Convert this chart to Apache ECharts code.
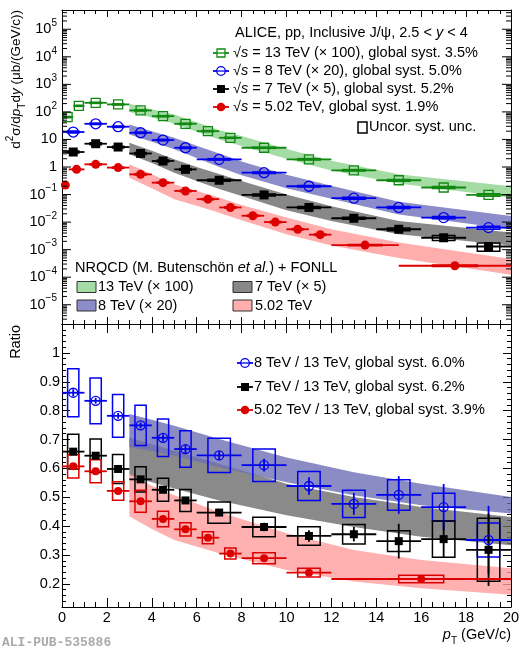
<!DOCTYPE html>
<html>
<head>
<meta charset="utf-8">
<script src="https://cdn.jsdelivr.net/npm/echarts@6/dist/echarts.min.js"></script>
<style>
html, body { margin: 0; padding: 0; background: #fff; }
#chart { width: 524px; height: 650px; }
</style>
</head>
<body>
<div id="chart"></div>
<script>
// ---- upper panel: d2sigma/dpT dy, already multiplied by the scale factors ----
// 13 TeV (x 100)
var pt13 = [0.25, 0.75, 1.5, 2.5, 3.5, 4.5, 5.5, 6.5, 7.5, 9, 11, 13, 15, 17, 19];
var binLo13 = [0, 0.5, 1, 2, 3, 4, 5, 6, 7, 8, 10, 12, 14, 16, 18];
var binHi13 = [0.5, 1, 2, 3, 4, 5, 6, 7, 8, 10, 12, 14, 16, 18, 20];
var xs13 = [65, 166, 214, 187, 113, 70, 37, 20, 11.5, 5.0, 1.9, 0.76, 0.33, 0.18, 0.097];
var sys13 = [0.06, 0.05, 0.05, 0.05, 0.05, 0.05, 0.05, 0.05, 0.05, 0.05, 0.06, 0.06, 0.07, 0.08, 0.10];

// 8 TeV (x 20) and 7 TeV (x 5) share the binning
var pt8 = [0.5, 1.5, 2.5, 3.5, 4.5, 5.5, 7, 9, 11, 13, 15, 17, 19];
var binLo8 = [0, 1, 2, 3, 4, 5, 6, 8, 10, 12, 14, 16, 18];
var binHi8 = [1, 2, 3, 4, 5, 6, 8, 10, 12, 14, 16, 18, 20];
var xs8 = [18.6, 37, 29, 17.5, 9.5, 5.0, 1.9, 0.62, 0.20, 0.074, 0.034, 0.0146, 0.0063];
var sys8 = [0.08, 0.06, 0.06, 0.06, 0.06, 0.06, 0.06, 0.07, 0.07, 0.08, 0.09, 0.10, 0.12];
var xs7 = [3.5, 7.0, 5.3, 3.1, 1.65, 0.82, 0.33, 0.097, 0.034, 0.0138, 0.0055, 0.0027, 0.0013];
var sys7 = [0.08, 0.08, 0.08, 0.08, 0.08, 0.08, 0.08, 0.09, 0.09, 0.09, 0.11, 0.20, 0.33];

// 5.02 TeV
var pt5 = [0.15, 0.65, 1.5, 2.5, 3.5, 4.5, 5.5, 6.5, 7.5, 8.5, 9.5, 10.5, 11.5, 13.5, 17.5];
var binLo5 = [0, 0.3, 1, 2, 3, 4, 5, 6, 7, 8, 9, 10, 11, 12, 15];
var binHi5 = [0.3, 1, 2, 3, 4, 5, 6, 7, 8, 9, 10, 11, 12, 15, 20];
var xs5 = [0.22, 0.82, 1.25, 0.95, 0.54, 0.27, 0.135, 0.068, 0.034, 0.017, 0.010, 0.0055, 0.0035, 0.00146, 0.00026];
var sys5 = [0.05, 0.05, 0.05, 0.05, 0.05, 0.05, 0.05, 0.05, 0.05, 0.05, 0.05, 0.05, 0.06, 0.06, 0.06];

// NRQCD + FONLL bands (upper panel)
var bandPt = [3, 4, 5, 6, 7, 8, 10, 12, 15, 20];
var band13Lo = [100, 62, 37, 19, 10, 5.8, 2.0, 0.75, 0.25, 0.077];
var band13Hi = [196, 125, 80, 42, 22, 13.3, 4.5, 1.7, 0.55, 0.20];
var band8Lo = [15, 8.3, 4.4, 2.1, 1.0, 0.5, 0.17, 0.07, 0.019, 0.0055];
var band8Hi = [35, 20, 11.5, 5.9, 3.1, 1.6, 0.52, 0.21, 0.055, 0.0167];
var band7Lo = [2.9, 1.4, 0.62, 0.31, 0.16, 0.089, 0.027, 0.011, 0.0036, 0.0014];
var band7Hi = [7.6, 3.9, 1.9, 1.0, 0.56, 0.31, 0.10, 0.038, 0.011, 0.0042];
var band5Lo = [0.41, 0.17, 0.068, 0.039, 0.022, 0.0117, 0.0036, 0.0014, 0.0005, 0.000123];
var band5Hi = [1.25, 0.54, 0.235, 0.135, 0.078, 0.042, 0.0146, 0.0055, 0.0018, 0.00046];

// ---- lower panel: ratios to 13 TeV ----
var r8 = [0.862, 0.834, 0.782, 0.749, 0.706, 0.667, 0.645, 0.611, 0.539, 0.477, 0.508, 0.466, 0.352];
var r8Stat = [0.012, 0.010, 0.010, 0.010, 0.012, 0.014, 0.015, 0.022, 0.030, 0.038, 0.065, 0.080, 0.118];
var r8Sys = [0.083, 0.079, 0.074, 0.070, 0.065, 0.063, 0.059, 0.056, 0.050, 0.047, 0.053, 0.048, 0.059];
var r7 = [0.658, 0.644, 0.598, 0.562, 0.526, 0.489, 0.447, 0.397, 0.366, 0.372, 0.348, 0.355, 0.318];
var r7Stat = [0.008, 0.008, 0.008, 0.008, 0.008, 0.010, 0.012, 0.015, 0.020, 0.025, 0.060, 0.065, 0.125];
var r7Sys = [0.060, 0.058, 0.050, 0.044, 0.040, 0.038, 0.037, 0.034, 0.032, 0.034, 0.036, 0.063, 0.109];
var ptR5 = [0.5, 1.5, 2.5, 3.5, 4.5, 5.5, 6.5, 7.5, 9, 11, 16];
var binLoR5 = [0, 1, 2, 3, 4, 5, 6, 7, 8, 10, 12];
var binHiR5 = [1, 2, 3, 4, 5, 6, 7, 8, 10, 12, 20];
var r5 = [0.607, 0.590, 0.522, 0.486, 0.425, 0.389, 0.360, 0.305, 0.289, 0.239, 0.217];
var r5Stat = [0.008, 0.008, 0.008, 0.008, 0.008, 0.008, 0.008, 0.008, 0.008, 0.008, 0.008];
var r5Sys = [0.040, 0.040, 0.032, 0.038, 0.027, 0.023, 0.021, 0.019, 0.019, 0.015, 0.013];

// model ratio bands
var bandRPt = [3, 4, 5, 7, 10, 13, 16, 20];
var band8RLo = [0.673, 0.660, 0.644, 0.604, 0.552, 0.507, 0.472, 0.444];
var band8RHi = [0.788, 0.768, 0.748, 0.702, 0.638, 0.587, 0.547, 0.501];
var band7RLo = [0.575, 0.552, 0.530, 0.489, 0.438, 0.397, 0.363, 0.334];
var band7RHi = [0.707, 0.684, 0.661, 0.616, 0.547, 0.501, 0.466, 0.432];
var band5RLo = [0.434, 0.390, 0.352, 0.306, 0.248, 0.208, 0.185, 0.162];
var band5RHi = [0.581, 0.540, 0.507, 0.449, 0.375, 0.317, 0.283, 0.254];

// log axis: labelled decades and minor tick multipliers
var majorExp = [-5, -4, -3, -2, -1, 0, 1, 2, 3, 4, 5];
var minorMult = [2, 3, 4, 5, 6, 7, 8, 9];

var F = '"Liberation Sans", Arial, Helvetica, sans-serif';
var FS = 14.5;
var GREEN = '#118811', BLUE = '#0000ee', BLACK = '#000000', RED = '#dd0000';

var chart = echarts.init(document.getElementById('chart'));

// rich text for graphic elements (zrender uses fill)
function richSet(size) {
    return {
        n: { fontFamily: F, fontSize: size, lineHeight: 22, fill: '#000' },
        i: { fontFamily: F, fontSize: size, lineHeight: 22, fontStyle: 'italic', fill: '#000' },
        sup: { fontFamily: F, fontSize: 10, lineHeight: 10, verticalAlign: 'top', fill: '#000' },
        sub: { fontFamily: F, fontSize: 10, lineHeight: 10, verticalAlign: 'bottom', fill: '#000' }
    };
}
var RICH_G = richSet(FS);

function boxHalf(lo, hi) {
    return Math.min((hi - lo) / 4, 1);
}

// horizontal bin bar + vertical stat bar
function errSeries(pts, lo, hi, vals, stat, color, lw, ax) {
    var data = pts.map(function (p, i) {
        var s = stat ? stat[i] : 0;
        return [p, vals[i], lo[i], hi[i], vals[i] - s, vals[i] + s];
    });
    return {
        type: 'custom', xAxisIndex: ax, yAxisIndex: ax, z: 3, silent: true,
        data: data,
        renderItem: function (params, api) {
            var c = api.coord([api.value(0), api.value(1)]);
            var l = api.coord([api.value(2), api.value(1)]);
            var r = api.coord([api.value(3), api.value(1)]);
            var kids = [{
                type: 'line',
                shape: { x1: l[0], y1: c[1], x2: r[0], y2: c[1] },
                style: { stroke: color, lineWidth: lw }
            }];
            if (api.value(5) > api.value(4)) {
                var b = api.coord([api.value(0), api.value(4)]);
                var t = api.coord([api.value(0), api.value(5)]);
                kids.push({
                    type: 'line',
                    shape: { x1: c[0], y1: t[1], x2: c[0], y2: b[1] },
                    style: { stroke: color, lineWidth: lw }
                });
            }
            return { type: 'group', children: kids };
        }
    };
}

// open boxes for uncorrelated systematics; rel = true -> relative errors
function boxSeries(pts, lo, hi, vals, sys, rel, color, ax) {
    var data = pts.map(function (p, i) {
        var d = rel ? vals[i] * sys[i] : sys[i];
        return [p, vals[i] - d, vals[i] + d, boxHalf(lo[i], hi[i])];
    });
    return {
        type: 'custom', xAxisIndex: ax, yAxisIndex: ax, z: 2, silent: true,
        data: data,
        renderItem: function (params, api) {
            var p0 = api.coord([api.value(0) - api.value(3), api.value(2)]);
            var p1 = api.coord([api.value(0) + api.value(3), api.value(1)]);
            return {
                type: 'rect',
                shape: { x: p0[0], y: p0[1], width: p1[0] - p0[0], height: p1[1] - p0[1] },
                style: { fill: 'none', stroke: color, lineWidth: 1.5 }
            };
        }
    };
}

function markerSeries(pts, vals, symbol, open, color, size, ax) {
    return {
        type: 'scatter', xAxisIndex: ax, yAxisIndex: ax, z: 4, silent: true,
        symbol: symbol, symbolSize: size,
        data: pts.map(function (p, i) { return [p, vals[i]]; }),
        itemStyle: open
            ? { color: 'rgba(0,0,0,0)', borderColor: color, borderWidth: 1.3, opacity: 1 }
            : { color: color, opacity: 1 }
    };
}

function bandSeries(pts, lo, hi, fill, ax) {
    return {
        type: 'custom', xAxisIndex: ax, yAxisIndex: ax, z: 1, silent: true,
        data: pts.map(function (p, i) { return [p, lo[i], hi[i]]; }),
        renderItem: function (params, api) {
            if (params.dataIndex !== 0) return null;
            var poly = [];
            for (var i = 0; i < pts.length; i++) poly.push(api.coord([pts[i], hi[i]]));
            for (var j = pts.length - 1; j >= 0; j--) poly.push(api.coord([pts[j], lo[j]]));
            return { type: 'polygon', shape: { points: poly }, style: { fill: fill, stroke: null } };
        }
    };
}

// ticks of the log axis on both sides of the upper frame, drawn on its scale
function tickPair(a, b, len) {
    return [
        { type: 'line', shape: { x1: a[0], y1: a[1], x2: a[0] + len, y2: a[1] }, style: { stroke: '#000', lineWidth: 1 } },
        { type: 'line', shape: { x1: b[0] - len, y1: b[1], x2: b[0], y2: b[1] }, style: { stroke: '#000', lineWidth: 1 } }
    ];
}

var minorVals = [];
for (var n = -6; n <= 5; n++) {
    minorMult.forEach(function (m) {
        var v = m * Math.pow(10, n);
        if (v > 2e-6 && v < 5e5) minorVals.push([0, v]);
    });
}
var logMinorTicks = {
    type: 'custom', xAxisIndex: 0, yAxisIndex: 0, z: 5, silent: true,
    data: minorVals,
    renderItem: function (params, api) {
        var a = api.coord([0, api.value(1)]);
        var b = api.coord([20, api.value(1)]);
        return { type: 'group', children: tickPair(a, b, 5) };
    }
};

var logMajorTicks = {
    type: 'custom', xAxisIndex: 0, yAxisIndex: 0, z: 5, silent: true,
    data: majorExp.map(function (e) { return [0, Math.pow(10, e), e]; }),
    renderItem: function (params, api) {
        var e = api.value(2);
        var a = api.coord([0, api.value(1)]);
        var b = api.coord([20, api.value(1)]);
        var txt = e === 0 ? '{n|1}' : e === 1 ? '{n|10}'
            : '{n|10}{sup|' + (e < 0 ? '\u2212' : '') + Math.abs(e) + '}';
        var kids = tickPair(a, b, 9);
        kids.push({
            type: 'text', x: a[0] - 5, y: a[1],
            style: { text: txt, rich: RICH_G, font: FS + 'px ' + F, fill: '#000', align: 'right', verticalAlign: 'middle' }
        });
        return { type: 'group', children: kids };
    }
};

function xAxisDef(grid, pos, labels, major, minor) {
    return {
        type: 'value', gridIndex: grid, position: pos, min: 0, max: 20, interval: 2,
        axisLine: { show: true, onZero: false, lineStyle: { color: '#000', width: 1 } },
        axisTick: { show: true, inside: true, length: major, lineStyle: { color: '#000' } },
        minorTick: { show: true, splitNumber: 4, length: minor, lineStyle: { color: '#000' } },
        splitLine: { show: false },
        axisLabel: { show: labels, margin: 3, color: '#000', fontFamily: F, fontSize: FS }
    };
}

function logAxisDef(pos) {
    return {
        type: 'log', gridIndex: 0, position: pos, min: 2e-6, max: 5e5,
        axisLine: { show: true, onZero: false, lineStyle: { color: '#000', width: 1 } },
        axisTick: { show: false },
        splitLine: { show: false },
        axisLabel: { show: false }
    };
}

function ratioAxisDef(pos, labels) {
    return {
        type: 'value', gridIndex: 1, position: pos, min: 0.12, max: 1.1, splitNumber: 10,
        axisLine: { show: true, onZero: false, lineStyle: { color: '#000', width: 1 } },
        axisTick: { show: true, inside: true, length: 8, lineStyle: { color: '#000' } },
        minorTick: { show: true, splitNumber: 5, length: 4, lineStyle: { color: '#000' } },
        splitLine: { show: false },
        axisLabel: {
            show: labels, margin: 2, showMinLabel: false, showMaxLabel: false,
            color: '#000', fontFamily: F, fontSize: FS
        }
    };
}

// legend pieces (pixel layout)
function legendMarker(x, y, color, shape, open) {
    var els = [{
        type: 'line', z: 10,
        shape: { x1: x - 8, y1: y, x2: x + 8, y2: y },
        style: { stroke: color, lineWidth: 1.8 }
    }];
    var st = open ? { fill: '#fff', stroke: color, lineWidth: 1.3 } : { fill: color };
    if (shape === 'rect') {
        els.push({ type: 'rect', z: 11, shape: { x: x - 4, y: y - 4, width: 8, height: 8 }, style: st });
    } else {
        els.push({ type: 'circle', z: 11, shape: { cx: x, cy: y, r: 4.3 }, style: st });
    }
    if (open) {
        els.push({ type: 'line', z: 12, shape: { x1: x - 4, y1: y, x2: x + 4, y2: y }, style: { stroke: color, lineWidth: 1.3 } });
    }
    return els;
}

function label(x, y, text, align, rotation, size) {
    var fs = size || FS;
    return {
        type: 'text', x: x, y: y, z: 12, rotation: rotation || 0,
        style: { text: text, rich: richSet(fs), font: fs + 'px ' + F, fill: '#000', verticalAlign: 'middle', align: align || 'left' }
    };
}

function bandKey(x, y, fill) {
    return { type: 'rect', z: 10, shape: { x: x, y: y, width: 19, height: 11 }, style: { fill: fill, stroke: '#333', lineWidth: 1 } };
}

var graphics = [];
graphics.push(label(235, 33, '{n|ALICE, pp, Inclusive J/\u03c8, 2.5 < }{i|y}{n| < 4}'));
var topRows = [
    [53, GREEN, 'rect', true, '{n|\u221a}{i|s}{n| = 13 TeV (\u00d7 100), global syst. 3.5%}'],
    [71, BLUE, 'circle', true, '{n|\u221a}{i|s}{n| = 8 TeV (\u00d7 20), global syst. 5.0%}'],
    [89, BLACK, 'rect', false, '{n|\u221a}{i|s}{n| = 7 TeV (\u00d7 5), global syst. 5.2%}'],
    [107, RED, 'circle', false, '{n|\u221a}{i|s}{n| = 5.02 TeV, global syst. 1.9%}']
];
topRows.forEach(function (r) {
    graphics = graphics.concat(legendMarker(221, r[0], r[1], r[2], r[3]));
    graphics.push(label(233, r[0], r[4]));
});
graphics.push({ type: 'rect', z: 10, shape: { x: 358, y: 122, width: 9, height: 11 }, style: { fill: 'none', stroke: '#000', lineWidth: 1.5 } });
graphics.push(label(369, 127, '{n|Uncor. syst. unc.}'));

graphics.push(label(75, 268, '{n|NRQCD (M. Butensch\u00f6n }{i|et al.}{n|) + FONLL}'));
graphics.push(bandKey(77, 281.5, '#a5dca5'));
graphics.push(label(98, 287, '{n|13 TeV (\u00d7 100)}'));
graphics.push(bandKey(77, 300, '#8c8cca'));
graphics.push(label(98, 305.5, '{n|8 TeV (\u00d7 20)}'));
graphics.push(bandKey(233, 281.5, '#888888'));
graphics.push(label(255, 287, '{n|7 TeV (\u00d7 5)}'));
graphics.push(bandKey(233, 300, '#ffadad'));
graphics.push(label(255, 305.5, '{n|5.02 TeV}'));

var botRows = [
    [363, BLUE, 'circle', true, '{n|8 TeV / 13 TeV, global syst. 6.0%}'],
    [387, BLACK, 'rect', false, '{n|7 TeV / 13 TeV, global syst. 6.2%}'],
    [410, RED, 'circle', false, '{n|5.02 TeV / 13 TeV, global syst. 3.9%}']
];
botRows.forEach(function (r) {
    graphics = graphics.concat(legendMarker(245, r[0], r[1], r[2], r[3]));
    graphics.push(label(254, r[0], r[4]));
});

// axis titles
graphics.push(label(16, 10, '{n|d}{sup|2}{n|\u03c3/d}{i|p}{sub|T}{n|d}{i|y}{n| (\u03bcb/(GeV/c))}', 'right', Math.PI / 2, 13.5));
graphics.push(label(16, 325, '{n|Ratio}', 'right', Math.PI / 2));
graphics.push(label(511, 635, '{i|p}{sub|T}{n| (GeV/c)}', 'right'));
graphics.push({
    type: 'text', x: 2, y: 643, z: 12,
    style: { text: 'ALI-PUB-535886', font: 'bold 13px "Liberation Mono", monospace', fill: '#aaaaaa', verticalAlign: 'middle' }
});

var option = {
    animation: false,
    backgroundColor: '#fff',
    grid: [
        { left: 62, right: 13, top: 10, height: 314 },
        { left: 62, right: 13, top: 324, height: 283 }
    ],
    xAxis: [
        xAxisDef(0, 'bottom', false, 7, 4),
        xAxisDef(0, 'top', false, 7, 4),
        xAxisDef(1, 'bottom', true, 9, 5),
        xAxisDef(1, 'top', false, 9, 5)
    ],
    yAxis: [
        logAxisDef('left'),
        logAxisDef('right'),
        ratioAxisDef('left', true),
        ratioAxisDef('right', false)
    ],
    graphic: { elements: graphics },
    series: [
        // upper panel
        bandSeries(bandPt, band13Lo, band13Hi, '#a5dca5', 0),
        bandSeries(bandPt, band8Lo, band8Hi, '#8c8cca', 0),
        bandSeries(bandPt, band7Lo, band7Hi, '#888888', 0),
        bandSeries(bandPt, band5Lo, band5Hi, '#ffadad', 0),
        boxSeries(pt13, binLo13, binHi13, xs13, sys13, true, GREEN, 0),
        boxSeries(pt8, binLo8, binHi8, xs8, sys8, true, BLUE, 0),
        boxSeries(pt8, binLo8, binHi8, xs7, sys7, true, BLACK, 0),
        boxSeries(pt5, binLo5, binHi5, xs5, sys5, true, RED, 0),
        errSeries(pt13, binLo13, binHi13, xs13, null, GREEN, 1.8, 0),
        errSeries(pt8, binLo8, binHi8, xs8, null, BLUE, 1.8, 0),
        errSeries(pt8, binLo8, binHi8, xs7, null, BLACK, 1.8, 0),
        errSeries(pt5, binLo5, binHi5, xs5, null, RED, 1.8, 0),
        markerSeries(pt13, xs13, 'rect', true, GREEN, 9, 0),
        markerSeries(pt8, xs8, 'circle', true, BLUE, 10, 0),
        markerSeries(pt8, xs7, 'rect', false, BLACK, 9, 0),
        markerSeries(pt5, xs5, 'circle', false, RED, 9, 0),
        logMinorTicks,
        logMajorTicks,
        // lower panel
        bandSeries(bandRPt, band7RLo, band7RHi, 'rgba(109,109,109,0.8)', 2),
        bandSeries(bandRPt, band8RLo, band8RHi, 'rgba(111,111,181,0.8)', 2),
        bandSeries(bandRPt, band5RLo, band5RHi, 'rgba(255,156,156,0.8)', 2),
        boxSeries(pt8, binLo8, binHi8, r8, r8Sys, false, BLUE, 2),
        boxSeries(pt8, binLo8, binHi8, r7, r7Sys, false, BLACK, 2),
        boxSeries(ptR5, binLoR5, binHiR5, r5, r5Sys, false, RED, 2),
        errSeries(pt8, binLo8, binHi8, r8, r8Stat, BLUE, 1.8, 2),
        errSeries(pt8, binLo8, binHi8, r7, r7Stat, BLACK, 1.8, 2),
        errSeries(ptR5, binLoR5, binHiR5, r5, r5Stat, RED, 1.8, 2),
        markerSeries(pt8, r8, 'circle', true, BLUE, 9, 2),
        markerSeries(pt8, r7, 'rect', false, BLACK, 8, 2),
        markerSeries(ptR5, r5, 'circle', false, RED, 8, 2)
    ]
};

chart.setOption(option);
</script>
</body>
</html>
